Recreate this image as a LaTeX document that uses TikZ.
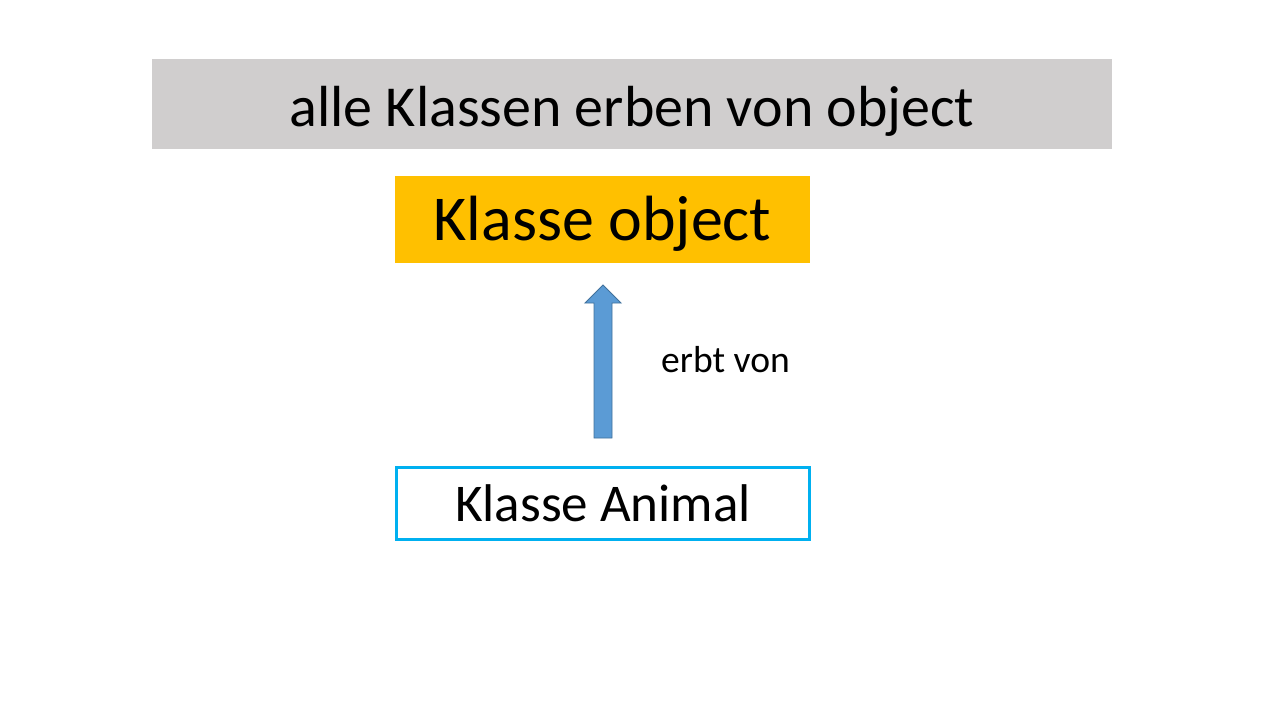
\documentclass[tikz,border=0pt]{standalone}
\usepackage{fontspec}
\setmainfont{Carlito}
\usepackage{xcolor}
\usetikzlibrary{calc}
\definecolor{titlegray}{HTML}{D0CECE}
\definecolor{objorange}{HTML}{FFC000}
\definecolor{animblue}{HTML}{00B0F0}
\definecolor{arrowfill}{HTML}{5B9BD5}
\definecolor{arrowline}{HTML}{41719C}
\tikzset{
    klassbox/.style={minimum width=#1*0.02cm, inner sep=0pt, align=center},
    arrowshape/.style={fill=arrowfill, draw=arrowline, line width=0.5pt}
}

\begin{document}
\begin{tikzpicture}[x=0.02cm, y=-0.02cm]
\useasboundingbox (0,0) rectangle (1280,720);
\node[klassbox=960, minimum height=90*0.02cm, fill=titlegray] (titel) at (632,104) {};
\node[font=\fontsize{33}{38}\selectfont] (titeltext) at ($(titel)+(0,7)$) {alle Klassen erben von object};
\node[klassbox=415, minimum height=87*0.02cm, fill=objorange] (object) at (602.5,219.5) {};
\node[font=\fontsize{36.4}{42}\selectfont] (objecttext) at ($(object)+(0,4)$) {Klasse object};
\node[klassbox=413, minimum height=72*0.02cm, draw=animblue, line width=1.4pt, font=\fontsize{30.2}{35}\selectfont] (animal) at (603,503.5) {Klasse Animal};
\node[font=\fontsize{21.4}{25}\selectfont] (erbt) at (725.5,360) {erbt von};
% Blockpfeil von Animal nach object
\coordinate (fuss) at (603,438);
\coordinate (spitze) at (603,285);
\draw[arrowshape] ($(fuss)+(-9,0)$) -- ($(spitze)+(-9,18)$) -- ($(spitze)+(-18,18)$) -- (spitze) -- ($(spitze)+(18,18)$) -- ($(spitze)+(9,18)$) -- ($(fuss)+(9,0)$) -- cycle;
\end{tikzpicture}
\end{document}
